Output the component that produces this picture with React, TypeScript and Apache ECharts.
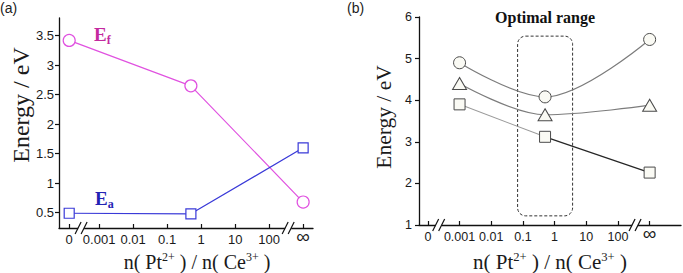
import React, { useEffect, useRef } from 'react';
import * as echarts from 'echarts';

// ---- data ----
const tickRatios = [0, 0.001, 0.01, 0.1, 1, 10, 100, Infinity];
const tickLabels = ['0', '0.001', '0.01', '0.1', '1', '10', '100', '∞'];

// panel (a)
const ratiosA = [0, 0.5, Infinity];
const efValues = [3.42, 2.65, 0.68];
const eaValues = [0.49, 0.48, 1.6];
const yTicksA = [0.5, 1, 1.5, 2, 2.5, 3, 3.5];

// panel (b)
const ratiosB = [0.001, 0.5, Infinity];
const circleValues = [4.9, 4.08, 5.46];
const triangleValues = [4.4, 3.65, 3.88];
const squareValues = [3.9, 3.12, 2.26];
const yTicksB = [1, 2, 3, 4, 5, 6];
const optimalRatio = [0.068, 3.7];
const optimalEnergy = [1.22, 5.54];

// ---- broken log scale: 0 and ∞ sit beyond the decades ----
const makePos = (zeroPos: number, infPos: number) => (r: number) =>
  r === 0 ? zeroPos : r === Infinity ? infPos : Math.log10(r);
const posA = makePos(-3.88, 3.0);
const posB = makePos(-4.0, 3.0);
const breaksA = [-3.53, 2.56];
const breaksB = [-3.66, 2.54];

const SERIF = '"Liberation Serif", "Times New Roman", serif';
const SANS = '"Liberation Sans", Arial, sans-serif';

function xAxisFor(gridIndex: number, pos: (r: number) => number, min: number, max: number, fs: number) {
  const vals = tickRatios.map(pos);
  return {
    type: 'value',
    gridIndex,
    min,
    max,
    splitLine: { show: false },
    axisLine: { show: true, onZero: false, lineStyle: { color: '#111', width: 1.3 } },
    axisTick: { show: true, inside: true, length: 4, customValues: vals, lineStyle: { color: '#111', width: 1.2 } },
    axisLabel: {
      show: true,
      customValues: vals,
      margin: 5,
      color: '#1a1a1a',
      fontFamily: SANS,
      fontSize: fs,
      formatter: (v: number) => {
        const i = vals.findIndex((p) => Math.abs(p - v) < 1e-6);
        if (i < 0) return '';
        return tickLabels[i] === '∞' ? '{inf|∞}' : tickLabels[i];
      },
      rich: { inf: { fontSize: 19, fontFamily: SANS, color: '#1a1a1a', lineHeight: 6 } },
    },
  };
}

function yAxisFor(gridIndex: number, min: number, max: number, ticks: number[], fs: number, margin: number) {
  return {
    type: 'value',
    gridIndex,
    min,
    max,
    splitLine: { show: false },
    axisLine: { show: true, onZero: false, lineStyle: { color: '#111', width: 1.3 } },
    axisTick: { show: true, length: 4, customValues: ticks, lineStyle: { color: '#111', width: 1.2 } },
    axisLabel: { customValues: ticks, margin, color: '#1a1a1a', fontFamily: SANS, fontSize: fs },
  };
}

const MAG = '#e052e0';
const BLUE = '#3a3ad8';
const GRAY = '#7c7c7c';
const MFILL = '#fafaf4';
const MSTROKE = '#4a4a4a';

export default function App() {
  const ref = useRef<HTMLDivElement>(null);
  useEffect(() => {
    if (!ref.current) return;
    const chart = echarts.init(ref.current, null, { renderer: 'svg' });
    const ptsA = (vals: number[]) => ratiosA.map((r, i) => [posA(r), vals[i]]);
    const ptsB = (vals: number[]) => ratiosB.map((r, i) => [posB(r), vals[i]]);
    const sq = ptsB(squareValues);

    const option: any = {
      animation: false,
      backgroundColor: '#ffffff',
      title: [
        { text: '(a)', left: -5, top: -4, textStyle: { fontFamily: SANS, fontSize: 14, fontWeight: 'normal', color: '#222' } },
        { text: '(b)', left: 342, top: -4, textStyle: { fontFamily: SANS, fontSize: 14, fontWeight: 'normal', color: '#222' } },
      ],
      grid: [
        { left: 59, top: 18, width: 254, height: 210 },
        { left: 419, top: 17, width: 262, height: 208 },
      ],
      xAxis: [xAxisFor(0, posA, -4.18, 3.29, 13), xAxisFor(1, posB, -4.28, 3.99, 12.5)],
      yAxis: [yAxisFor(0, 0.24, 3.8, yTicksA, 13, 5), yAxisFor(1, 1, 6, yTicksB, 12.5, 7)],
      series: [
        {
          name: 'Ef', type: 'line', xAxisIndex: 0, yAxisIndex: 0, data: ptsA(efValues),
          symbol: 'circle', symbolSize: 12,
          itemStyle: { color: '#ffffff', borderColor: MAG, borderWidth: 1.2 },
          lineStyle: { color: MAG, width: 1.2 }, z: 3,
        },
        {
          name: 'Ea', type: 'line', xAxisIndex: 0, yAxisIndex: 0, data: ptsA(eaValues),
          symbol: 'rect', symbolSize: 10,
          itemStyle: { color: '#ffffff', borderColor: BLUE, borderWidth: 1.2 },
          lineStyle: { color: BLUE, width: 1.2 }, z: 3,
        },
        {
          name: 'circle', type: 'line', xAxisIndex: 1, yAxisIndex: 1, data: ptsB(circleValues),
          symbol: 'circle', symbolSize: 12, smooth: 0.35, smoothMonotone: 'x',
          itemStyle: { color: MFILL, borderColor: MSTROKE, borderWidth: 1 },
          lineStyle: { color: GRAY, width: 1.2 }, z: 3,
        },
        {
          name: 'triangle', type: 'line', xAxisIndex: 1, yAxisIndex: 1, data: ptsB(triangleValues),
          symbol: 'triangle', symbolSize: [14, 12], smooth: 0.35, smoothMonotone: 'x',
          itemStyle: { color: MFILL, borderColor: MSTROKE, borderWidth: 1 },
          lineStyle: { color: GRAY, width: 1.2 }, z: 3,
        },
        {
          name: 'squareLeft', type: 'line', xAxisIndex: 1, yAxisIndex: 1, data: sq.slice(0, 2),
          symbol: 'none', lineStyle: { color: '#9a9a9a', width: 1.1 }, z: 2,
        },
        {
          name: 'squareRight', type: 'line', xAxisIndex: 1, yAxisIndex: 1, data: sq.slice(1),
          symbol: 'none', lineStyle: { color: '#262626', width: 1.2 }, z: 2,
        },
        {
          name: 'square', type: 'line', xAxisIndex: 1, yAxisIndex: 1, data: sq,
          symbol: 'rect', symbolSize: 11,
          itemStyle: { color: MFILL, borderColor: MSTROKE, borderWidth: 1 },
          lineStyle: { width: 0, opacity: 0 }, z: 4,
        },
      ],
    };
    chart.setOption(option);

    const px = (g: number, x: number, y: number) => chart.convertToPixel({ gridIndex: g } as any, [x, y]) as number[];
    const graphics: any[] = [];
    const addBreak = (g: number, xv: number, yv: number) => {
      const [cx, cy] = px(g, xv, yv);
      graphics.push({ type: 'rect', z: 100, shape: { x: cx - 3, y: cy - 2, width: 6, height: 4 }, style: { fill: '#fff' } });
      [-3, 3].forEach((d) => {
        graphics.push({
          type: 'line', z: 101,
          shape: { x1: cx + d - 3, y1: cy + 6, x2: cx + d + 3, y2: cy - 6 },
          style: { stroke: '#111', lineWidth: 1.2 },
        });
      });
    };
    breaksA.forEach((b) => addBreak(0, b, 0.24));
    breaksB.forEach((b) => addBreak(1, b, 1));

    const [rx1, ry1] = px(1, posB(optimalRatio[0]), optimalEnergy[1]);
    const [rx2, ry2] = px(1, posB(optimalRatio[1]), optimalEnergy[0]);
    graphics.push({
      type: 'rect', z: 1,
      shape: { x: rx1, y: ry1, width: rx2 - rx1, height: ry2 - ry1, r: 8 },
      style: { fill: 'none', stroke: '#333', lineWidth: 1, lineDash: [3, 2] },
    });

    graphics.push({
      type: 'text', z: 10, x: (rx1 + rx2) / 2, y: 17,
      style: { text: 'Optimal range', fontFamily: SERIF, fontSize: 16, fontWeight: 'bold', fill: '#111', align: 'center', verticalAlign: 'middle' },
    });

    const subLabel = (x: number, y: number, main: string, sub: string, color: string) => ({
      type: 'text', z: 10, x, y,
      style: {
        text: `{e|${main}}{s|${sub}}`,
        align: 'left', verticalAlign: 'middle',
        rich: {
          e: { fontFamily: SERIF, fontSize: 19, fontWeight: 'bold', fill: color, lineHeight: 24 },
          s: { fontFamily: SERIF, fontSize: 12, fontWeight: 'bold', fill: color, lineHeight: 12, verticalAlign: 'bottom' },
        },
      },
    });
    graphics.push(subLabel(94, 34, 'E', 'f', '#c4299f'));
    graphics.push(subLabel(95, 198, 'E', 'a', '#2323b4'));

    const yTitle = (x: number, y: number, fs: number) => ({
      type: 'text', z: 10, x, y, rotation: Math.PI / 2,
      style: { text: 'Energy / eV', fontFamily: SERIF, fontSize: fs, fill: '#1a1a1a', align: 'center', verticalAlign: 'middle' },
    });
    graphics.push(yTitle(21, 105, 24));
    graphics.push(yTitle(384, 117, 21.5));

    const xTitle = (x: number, y: number, fs: number) => ({
      type: 'text', z: 10, x, y,
      style: {
        text: '{t|n( Pt}{p|2+}{t| ) / n( Ce}{p|3+}{t| )}',
        align: 'center', verticalAlign: 'middle',
        rich: {
          t: { fontFamily: SERIF, fontSize: fs, fill: '#1a1a1a', lineHeight: fs + 2 },
          p: { fontFamily: SERIF, fontSize: fs * 0.6, fill: '#1a1a1a', lineHeight: fs * 0.6, verticalAlign: 'top' },
        },
      },
    });
    graphics.push(xTitle(197, 262, 20));
    graphics.push(xTitle(550, 262, 21));

    chart.setOption({ graphic: graphics });
    return () => chart.dispose();
  }, []);
  return <div ref={ref} style={{ position: 'absolute', left: 0, top: 0, width: 683, height: 273 }} />;
}
